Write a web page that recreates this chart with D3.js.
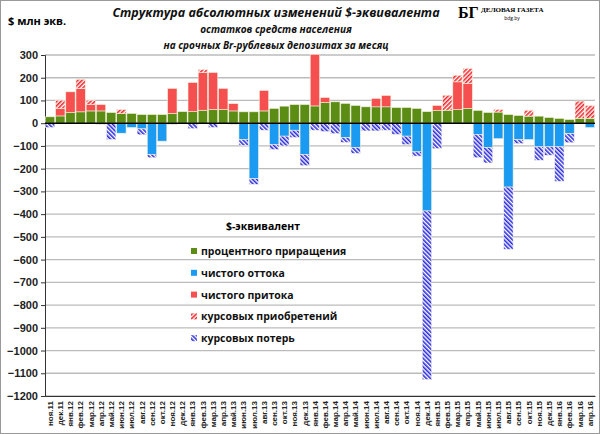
<!DOCTYPE html>
<html><head><meta charset="utf-8">
<script src="https://cdn.jsdelivr.net/npm/d3@7"></script>
<style>body{margin:0;background:#fff}svg{font-family:"Open Sans",sans-serif}</style>
</head><body><svg id="c" width="600" height="434"></svg>
<script>
const months = ['ноя.11','дек.11','янв.12','фев.12','мар.12','апр.12','май.12','июн.12','июл.12','авг.12','сен.12','окт.12',
  'ноя.12','дек.12','янв.13','фев.13','мар.13','апр.13','май.13','июн.13','июл.13','авг.13','сен.13','окт.13',
  'ноя.13','дек.13','янв.14','фев.14','мар.14','апр.14','май.14','июн.14','июл.14','авг.14','сен.14','окт.14',
  'ноя.14','дек.14','янв.15','фев.15','мар.15','апр.15','май.15','июн.15','июл.15','авг.15','сен.15','окт.15',
  'ноя.15','дек.15','янв.16','фев.16','мар.16','апр.16'];
const interest = [28,32,47,50,54,54,47,43,43,38,38,38,43,51,51,57,60,60,54,50,50,54,65,75,82,82,76,91,94,87,78,72,72,72,69,69,65,51,56,57,60,65,56,47,49,38,34,31,31,25,21,16,21,21];
const inflow =   [0,32,91,103,28,28,0,0,0,0,0,0,110,0,128,166,163,93,32,0,0,90,0,0,0,0,227,22,0,0,0,0,37,50,0,0,0,0,22,0,122,110,0,0,0,0,0,0,0,0,0,0,0,0];
const fxGain =   [0,37,0,40,19,0,0,17,0,0,0,0,0,0,0,13,0,0,0,0,0,0,0,0,0,0,0,0,0,0,0,0,0,0,0,0,0,0,0,66,29,66,0,0,12,0,0,26,0,0,0,0,76,57];
const outflow =  [0,0,0,0,0,0,0,-44,-19,-25,-137,-79,0,0,0,0,0,0,0,-72,-244,0,-93,-57,-31,-137,0,0,0,-63,-107,0,0,0,0,-57,-126,-386,0,0,0,0,-49,-107,-68,-281,-72,-72,-104,-104,-104,-46,0,-19];
const fxLoss =   [-19,0,0,0,0,-5,-72,0,0,-26,-15,0,-5,0,-24,0,-19,0,-5,-26,-25,-31,-23,-43,-32,-50,-31,-37,-46,-22,-26,-34,-34,-31,-49,-37,-19,-742,-112,0,0,0,-103,-68,0,-274,-18,0,-59,-37,-152,-40,-3,0];
const yTicks = d3.range(-1200, 301, 100);
const legendItems = ['процентного приращения','чистого оттока','чистого притока','курсовых приобретений','курсовых потерь'];

const svg = d3.select('#c');
const defs = svg.append('defs');
function hatch(id, color) {
  const p = defs.append('pattern').attr('id', id).attr('width', 3).attr('height', 3)
    .attr('patternUnits', 'userSpaceOnUse').attr('patternTransform', id === 'hr' ? 'rotate(45)' : 'rotate(-45)');
  p.append('rect').attr('width', 3).attr('height', 3).attr('fill', '#fff');
  p.append('rect').attr('width', 1.6).attr('height', 3).attr('fill', color);
}
hatch('hr', '#f0282d');
hatch('hb', '#2a2ae0');
const colors = ['#5b8c14', '#1a9af0', '#f5504f', 'url(#hr)', 'url(#hb)'];

svg.append('rect').attr('x', 0.5).attr('y', 0.5).attr('width', 599).attr('height', 433).attr('fill', '#fff').attr('stroke', '#999');

const x = d3.scaleBand().domain(months).range([45, 595]).paddingInner(0.08).paddingOuter(0.04);
const y = d3.scaleLinear().domain([-1200, 300]).range([396, 55]);

svg.append('g').selectAll('line').data(yTicks).join('line')
  .attr('x1', 45).attr('x2', 595).attr('y1', d => y(d)).attr('y2', d => y(d))
  .attr('stroke', '#bbb').attr('stroke-width', 1.3);

svg.append('g').attr('transform', 'translate(45,0)')
  .call(d3.axisLeft(y).tickValues(yTicks).tickSize(4).tickFormat(d3.format('d')))
  .call(g => g.selectAll('text').attr('font-size', 11).attr('font-weight', 'bold').attr('fill', '#222'))
  .call(g => g.selectAll('line,path').attr('stroke', '#333'));

// stacked segments
const segs = [];
months.forEach((m, i) => {
  let pos = 0, neg = 0;
  [[interest, 0], [inflow, 2], [fxGain, 3]].forEach(([arr, c]) => {
    if (arr[i] > 0) { segs.push({m, a: pos, b: pos + arr[i], c}); pos += arr[i]; }
  });
  [[outflow, 1], [fxLoss, 4]].forEach(([arr, c]) => {
    if (arr[i] < 0) { segs.push({m, a: neg, b: neg + arr[i], c}); neg += arr[i]; }
  });
});
svg.append('g').selectAll('rect').data(segs).join('rect')
  .attr('x', d => x(d.m)).attr('width', x.bandwidth())
  .attr('y', d => y(Math.max(d.a, d.b))).attr('height', d => Math.abs(y(d.a) - y(d.b)))
  .attr('fill', d => colors[d.c]).attr('stroke', '#f4f0dc').attr('stroke-width', 0.6);

svg.append('line').attr('x1', 45).attr('x2', 595).attr('y1', y(0)).attr('y2', y(0)).attr('stroke', '#000').attr('stroke-width', 1.5);

// x labels
svg.append('g').attr('transform', 'translate(0,396)')
  .call(d3.axisBottom(x).tickSize(0))
  .call(g => g.select('.domain').attr('stroke', '#333'))
  .call(g => g.selectAll('text').attr('transform', 'rotate(-90)').attr('text-anchor', 'end')
    .attr('x', -5).attr('y', 0).attr('dy', '0.35em').attr('font-size', 8).attr('font-weight', 'bold').attr('fill', '#222'));

// titles
svg.append('text').attr('x', 8).attr('y', 25).attr('font-size', 11).attr('font-weight', 'bold').text('$ млн экв.');
const t = svg.append('g').attr('text-anchor', 'middle').attr('font-style', 'italic').attr('font-weight', 'bold').attr('fill', '#111');
t.append('text').attr('x', 276).attr('y', 17).attr('font-size', 12.5).text('Структура абсолютных изменений $-эквивалента');
t.append('text').attr('x', 276).attr('y', 33).attr('font-size', 10).text('остатков  средств  населения');
t.append('text').attr('x', 276).attr('y', 49).attr('font-size', 10).text('на срочных Br-рублевых депозитах за месяц');
svg.append('text').attr('x', 458).attr('y', 18).attr('font-size', 16).attr('font-weight', 'bold').attr('font-family', 'Liberation Serif').text('БГ');
svg.append('text').attr('x', 481).attr('y', 12).attr('font-size', 7).attr('font-family', 'Liberation Serif').attr('font-weight', 'bold').text('ДЕЛОВАЯ ГАЗЕТА');
svg.append('text').attr('x', 512).attr('y', 20).attr('font-size', 5).attr('text-anchor', 'middle').text('bdg.by');

// legend
const lg = svg.append('g');
lg.append('text').attr('x', 263).attr('y', 230).attr('text-anchor', 'middle').attr('font-size', 10.5).attr('font-weight', 'bold').text('$-эквивалент');
legendItems.forEach((s, i) => {
  const yy = 252 + i * 21.8;
  lg.append('rect').attr('x', 191).attr('y', yy - 4).attr('width', 6).attr('height', 6).attr('fill', colors[i]);
  lg.append('text').attr('x', 201).attr('y', yy + 3).attr('font-size', 10.5).attr('font-weight', 'bold').attr('fill', '#111').text(s);
});
</script></body></html>
